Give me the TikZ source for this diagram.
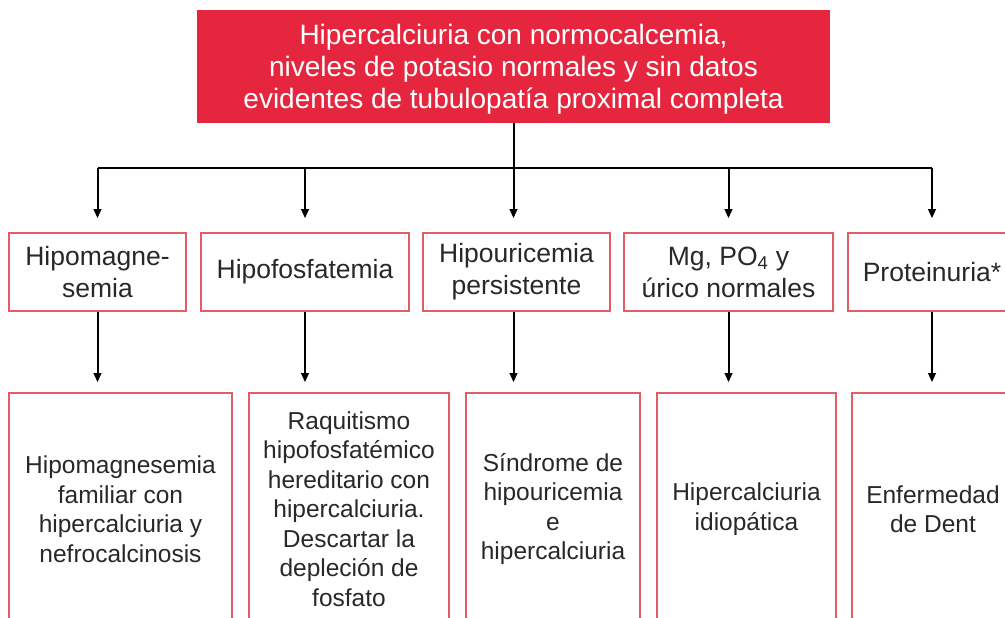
\documentclass[tikz,border=0pt]{standalone}
\usepackage{fontspec}
\setmainfont{Liberation Sans}
\usetikzlibrary{arrows.meta}
\definecolor{topred}{RGB}{230,38,62}
\definecolor{boxred}{RGB}{228,92,102}
\definecolor{txt}{RGB}{40,40,40}
\begin{document}
\begin{tikzpicture}[x=1pt,y=-1pt,
  topbox/.style={fill=topred, text=white, font=\fontsize{28}{32}\selectfont, align=center, inner sep=0pt, minimum width=633pt, minimum height=113pt},
  midbox/.style={draw=boxred, line width=1.6pt, text=txt, font=\fontsize{26.5}{32}\selectfont, align=center, inner sep=0pt, minimum height=78pt},
  lowbox/.style={draw=boxred, line width=1.6pt, text=txt, font=\fontsize{24.5}{29.5}\selectfont, align=center, inner sep=0pt, minimum height=232pt},
  conn/.style={line width=2pt, black},
  arr/.style={conn, -{Triangle[length=9pt,width=7.5pt]}}
]
\useasboundingbox (0,0) rectangle (1005,618);
\clip (0,0) rectangle (1005,618);
\fill[white] (0,0) rectangle (1005,618);

\node[topbox] (top) at (513.5,66.5) {\rule{0pt}{25pt}Hipercalciuria con normocalcemia,\\niveles de potasio normales y sin datos\\evidentes de tubulopatía proximal completa};

\node[midbox, minimum width=177pt] (h1) at (97.5,272) {Hipomagne-\\semia};
\node[midbox, minimum width=208pt] (h2) at (305,272) {Hipofosfatemia};
\node[midbox, minimum width=187pt] (h3) at (516.5,272) {Hipouricemia\\persistente};
\node[midbox, minimum width=209pt] (h4) at (728.5,272) {Mg, PO\textsubscript{4} y\\úrico normales};
\node[midbox, minimum width=168pt] (h5) at (932,272) {Proteinuria*};

\node[lowbox, minimum width=223pt] (l1) at (120.5,509) {Hipomagnesemia\\familiar con\\hipercalciuria y\\nefrocalcinosis};
\node[lowbox, minimum width=200pt] (l2) at (349,509) {Raquitismo\\hipofosfatémico\\hereditario con\\hipercalciuria.\\Descartar la\\depleción de\\fosfato};
\node[lowbox, minimum width=174pt] (l3) at (553,509) {Síndrome de\\hipouricemia\\e\\hipercalciuria};
\node[lowbox, minimum width=179pt] (l4) at (746.5,509) {Hipercalciuria\\idiopática};
\node[lowbox, minimum width=162pt] (l5) at (933,509) {Enfermedad\\de Dent};

\coordinate (bar) at (514,168);
\draw[conn] (top.south) -- (top.south |- bar);
\draw[conn] (h1.north |- bar) -- (h5.north |- bar);
\draw[arr, shorten >=14pt] (top.south) -- (top.south |- h3.north);
\draw[arr, shorten >=14pt] (h1.north |- bar) -- (h1.north);
\draw[arr, shorten >=14pt] (h2.north |- bar) -- (h2.north);
\draw[arr, shorten >=14pt] (h4.north |- bar) -- (h4.north);
\draw[arr, shorten >=14pt] (h5.north |- bar) -- (h5.north);

\draw[arr, shorten >=10pt] (h1.south) -- (h1.south |- l1.north);
\draw[arr, shorten >=10pt] (h2.south) -- (h2.south |- l2.north);
\draw[arr, shorten >=10pt] (top.south |- h3.south) -- (top.south |- l3.north);
\draw[arr, shorten >=10pt] (h4.south) -- (h4.south |- l4.north);
\draw[arr, shorten >=10pt] (h5.south) -- (h5.south |- l5.north);
\end{tikzpicture}
\end{document}
